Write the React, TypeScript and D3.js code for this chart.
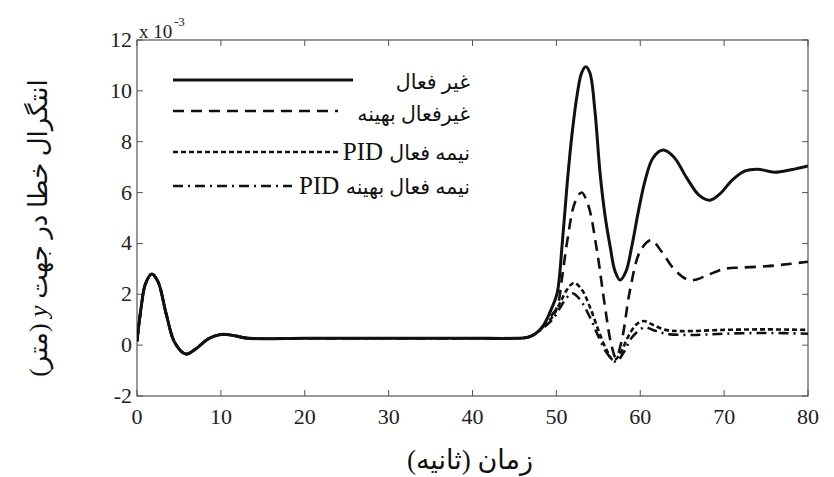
import React from "react";
import * as d3 from "d3";

// Time axis (seconds) and shared early response (all controllers coincide before t≈46 s)
const commonT = [0, 0.5, 1, 1.75, 2.5, 3.5, 4.5, 5.8, 7, 8.5, 10, 11.5, 13, 15, 20, 30, 40, 45, 46.5];
const commonV = [0.15, 1.5, 2.4, 2.8, 2.5, 1.2, 0.1, -0.35, -0.15, 0.25, 0.42, 0.38, 0.28, 0.25, 0.27, 0.27, 0.27, 0.27, 0.3];

// Passive (غیر فعال)
const passiveT = [47.5, 48.5, 49.5, 50.1, 50.7, 51.3, 51.9, 52.5, 53, 53.5, 54, 54.6, 55.2, 55.8, 56.4, 57, 57.6, 58.3, 59, 59.8, 60.6, 61.5, 62.7, 64, 65.5, 67, 68.3, 69.5, 71, 72.5, 74, 76, 78, 80];
const passiveV = [0.45, 0.8, 1.5, 2.05, 4.0, 6.4, 8.4, 9.9, 10.7, 10.95, 10.7, 9.2, 6.8, 5.1, 3.9, 2.9, 2.56, 2.9, 3.9, 5.3, 6.5, 7.35, 7.67, 7.4, 6.6, 5.9, 5.7, 5.95, 6.5, 6.85, 6.92, 6.8, 6.9, 7.05];

// Optimised passive (غیرفعال بهینه)
const optPassiveT = [47.5, 48.5, 49.5, 50.1, 50.7, 51.3, 52.2, 53, 53.8, 54.8, 55.8, 56.5, 57.1, 57.8, 58.8, 60, 61.3, 62.5, 64, 65.5, 66.4, 68, 70, 72, 75, 78, 80];
const optPassiveV = [0.45, 0.75, 1.2, 1.5, 2.7, 4.1, 5.6, 6.0, 5.5, 3.8, 1.5, 0.1, -0.5, 0.2, 2.2, 3.7, 4.13, 3.7, 3.0, 2.6, 2.56, 2.75, 3.0, 3.05, 3.1, 3.2, 3.28];

// Semi-active PID (نیمه فعال PID)
const pidT = [47.5, 48.5, 49.5, 50.5, 51.3, 52.1, 53, 54, 55, 56, 56.8, 57.5, 58.5, 59.5, 60.4, 61.5, 63, 65, 70, 75, 80];
const pidV = [0.45, 0.75, 1.1, 1.7, 2.2, 2.45, 2.2, 1.5, 0.6, -0.2, -0.6, -0.4, 0.3, 0.8, 0.95, 0.8, 0.6, 0.55, 0.6, 0.62, 0.6];

// Optimised semi-active PID (نیمه فعال بهینه PID)
const optPidT = [47.5, 48.5, 49.5, 50.5, 51.2, 51.9, 52.8, 54, 55, 56, 57.1, 58, 59, 60.5, 61.5, 63, 66, 70, 75, 80];
const optPidV = [0.45, 0.7, 1.0, 1.5, 1.85, 2.04, 1.8, 1.1, 0.35, -0.3, -0.65, -0.3, 0.3, 0.7, 0.6, 0.45, 0.4, 0.45, 0.48, 0.45];

// Legend labels: Persian part and optional Latin suffix
const seriesNames = ["غیر فعال", "غیرفعال بهینه", "نیمه فعال", "نیمه فعال بهینه"];
const seriesSuffix = ["", "", "PID", "PID"];
const xTicks = [0, 10, 20, 30, 40, 50, 60, 70, 80];
const yTicks = [-2, 0, 2, 4, 6, 8, 10, 12];

const W = 834;
const H = 477;
const M = { left: 137, right: 808, top: 40, bottom: 396 };

const serif = "Liberation Serif, DejaVu Serif, serif";
const arabicFont = "Liberation Serif, DejaVu Sans, sans-serif";

type Pt = [number, number];
const join = (t: number[], v: number[]): Pt[] =>
  commonT.map((x, i) => [x, commonV[i]] as Pt).concat(t.map((x, i) => [x, v[i]] as Pt));

export default function App() {
  const x = d3.scaleLinear().domain([0, 80]).range([M.left, M.right]);
  const y = d3.scaleLinear().domain([-2, 12]).range([M.bottom, M.top]);
  const line = d3
    .line<Pt>()
    .x((d) => x(d[0]))
    .y((d) => y(d[1]))
    .curve(d3.curveCatmullRom.alpha(0.5));

  const styles = [
    { dash: "none", width: 3 },
    { dash: "11 7", width: 2.6 },
    { dash: "5 3", width: 2.6 },
    { dash: "10 5 2 5", width: 2.6 },
  ];
  const data: Pt[][] = [
    join(passiveT, passiveV),
    join(optPassiveT, optPassiveV),
    join(pidT, pidV),
    join(optPidT, optPidV),
  ];

  const legendRows = [
    { y: 80, x2: 353, ty: 89 },
    { y: 111, x2: 338, ty: 121 },
    { y: 152, x2: 338, ty: 160 },
    { y: 186, x2: 292, ty: 194 },
  ];

  const tickLen = 6;
  const frame = "#555";

  return (
    <svg width={W} height={H} style={{ display: "block", position: "absolute", left: 0, top: 0, background: "#fff" }}>
      <rect x={0} y={0} width={W} height={H} fill="#fff" />
      {/* ticks on all four sides, pointing inward */}
      {xTicks.map((t) => (
        <g key={"xt" + t}>
          <line x1={x(t)} x2={x(t)} y1={M.bottom} y2={M.bottom - tickLen} stroke={frame} />
          <line x1={x(t)} x2={x(t)} y1={M.top} y2={M.top + tickLen} stroke={frame} />
          <text x={x(t)} y={424} textAnchor="middle" fontFamily={serif} fontSize={22} fill="#222">
            {t}
          </text>
        </g>
      ))}
      {yTicks.map((t) => (
        <g key={"yt" + t}>
          <line x1={M.left} x2={M.left + tickLen} y1={y(t)} y2={y(t)} stroke={frame} />
          <line x1={M.right} x2={M.right - tickLen} y1={y(t)} y2={y(t)} stroke={frame} />
          <text x={132} y={y(t) + 7} textAnchor="end" fontFamily={serif} fontSize={22} fill="#222">
            {t}
          </text>
        </g>
      ))}
      <rect
        x={M.left}
        y={M.top}
        width={M.right - M.left}
        height={M.bottom - M.top}
        fill="none"
        stroke={frame}
        strokeWidth={1.2}
      />
      {/* exponent multiplier */}
      <text x={139} y={38} fontFamily={serif} fontSize={19} fill="#222">
        x 10
      </text>
      <text x={174} y={26} fontFamily={serif} fontSize={13} fill="#222">
        -3
      </text>

      <defs>
        <clipPath id="plotClip">
          <rect x={M.left} y={M.top} width={M.right - M.left} height={M.bottom - M.top} />
        </clipPath>
      </defs>
      <g clipPath="url(#plotClip)">
        {data
          .map((d, i) => ({ d, i }))
          .reverse()
          .map(({ d, i }) => (
            <path
              key={"s" + i}
              d={line(d) || ""}
              fill="none"
              stroke="#111"
              strokeWidth={styles[i].width}
              strokeDasharray={styles[i].dash}
              strokeLinejoin="round"
            />
          ))}
      </g>

      {/* legend */}
      {legendRows.map((r, i) => (
        <g key={"lg" + i}>
          <line
            x1={173}
            x2={r.x2}
            y1={r.y}
            y2={r.y}
            stroke="#111"
            strokeWidth={styles[i].width}
            strokeDasharray={styles[i].dash}
          />
          <text
            x={470}
            y={r.ty}
            direction="rtl"
            textAnchor="start"
            fontFamily={arabicFont}
            fontSize={20.5}
            fill="#111"
          >
            {seriesNames[i]}
            {seriesSuffix[i] ? (
              <tspan fontFamily={serif} fontSize={25}>
                {" " + seriesSuffix[i]}
              </tspan>
            ) : null}
          </text>
        </g>
      ))}

      {/* axis titles */}
      <text x={470} y={469} textAnchor="middle" fontFamily={arabicFont} fontSize={27} fill="#111" direction="rtl">
        زمان (ثانیه)
      </text>
      <text
        transform="translate(47,228) rotate(-90)"
        textAnchor="middle"
        direction="rtl"
        fontFamily={arabicFont}
        fontSize={26}
        fill="#111"
      >
        انتگرال خطا در جهت <tspan fontStyle="italic" fontFamily={serif}>y</tspan> (متر)
      </text>
    </svg>
  );
}
